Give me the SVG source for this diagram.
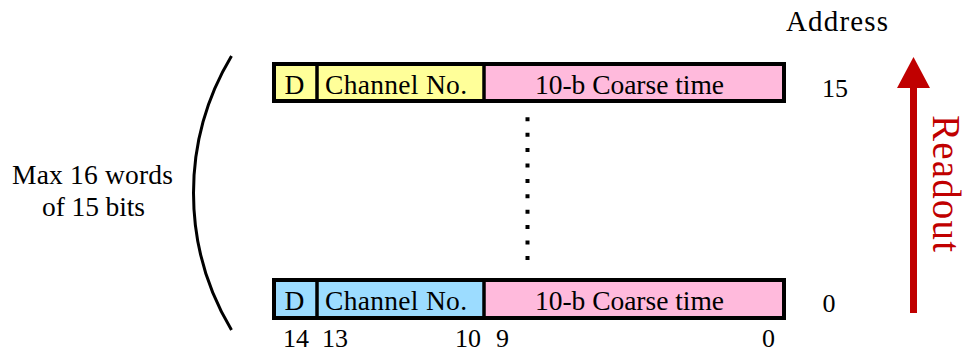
<svg xmlns="http://www.w3.org/2000/svg" width="967" height="354" viewBox="0 0 967 354">
  <style>
    text { font-family: "Liberation Serif", "Times New Roman", serif; font-size: 27.5px; fill: #000; }
    .n { font-size: 26px; }
    .c { text-anchor: middle; }
    .frame { fill: none; stroke: #000; stroke-width: 4; }
    .div { stroke: #000; stroke-width: 3.5; }
    .yel { fill: #FFFF99; }
    .blu { fill: #9CDCFF; }
    .pnk { fill: #FFBADC; }
  </style>

  <!-- word at address 15 -->
  <g id="word15">
    <rect class="yel" x="274" y="64" width="210" height="37"/>
    <rect class="pnk" x="484" y="64" width="300" height="37"/>
    <line class="div" x1="317" y1="64" x2="317" y2="101"/>
    <line class="div" x1="484" y1="64" x2="484" y2="101"/>
    <rect class="frame" x="274" y="64" width="510" height="37"/>
    <text class="c" x="294.5" y="94">D</text>
    <text class="c" x="396" y="94" textLength="142">Channel No.</text>
    <text class="c" x="629.5" y="94" textLength="189">10-b Coarse time</text>
  </g>

  <!-- word at address 0 -->
  <g id="word0">
    <rect class="blu" x="274" y="280" width="210" height="38"/>
    <rect class="pnk" x="484" y="280" width="300" height="38"/>
    <line class="div" x1="317" y1="280" x2="317" y2="318"/>
    <line class="div" x1="484" y1="280" x2="484" y2="318"/>
    <rect class="frame" x="274" y="280" width="510" height="38"/>
    <text class="c" x="294.5" y="310">D</text>
    <text class="c" x="396" y="310" textLength="142">Channel No.</text>
    <text class="c" x="629.5" y="310" textLength="189">10-b Coarse time</text>
  </g>

  <!-- bit positions -->
  <g id="bits">
    <text class="n" x="283" y="347">14</text>
    <text class="n" x="322" y="347">13</text>
    <text class="n" x="455" y="347">10</text>
    <text class="n" x="496" y="347">9</text>
    <text class="n" x="762" y="347">0</text>
  </g>

  <!-- addresses -->
  <g id="addresses">
    <text class="c" x="837" y="31" textLength="102" style="font-size:29px">Address</text>
    <text class="n c" x="835" y="97">15</text>
    <text class="n c" x="829" y="312">0</text>
  </g>

  <!-- word count label -->
  <g id="label">
    <text class="c" x="92.5" y="184" textLength="161">Max 16 words</text>
    <text class="c" x="93.5" y="216" textLength="103">of 15 bits</text>
  </g>

  <g id="connectors">
    <!-- brace spanning the stack -->
    <path d="M231.5 56 A266 266 0 0 0 231.5 330" fill="none" stroke="#000" stroke-width="3"/>
    <!-- ellipsis between the words -->
    <line x1="527.5" y1="117.3" x2="527.5" y2="262" stroke="#000" stroke-width="4" stroke-dasharray="4 11.4"/>
    <!-- readout direction -->
    <rect x="910" y="86" width="7" height="227" fill="#C00000"/>
    <polygon points="913.5,57 930,88 897,88" fill="#C00000"/>
  </g>

  <text x="0" y="0" transform="translate(933 115) rotate(90)" textLength="137" style="font-size:39px; fill:#C00000">Readout</text>
</svg>
